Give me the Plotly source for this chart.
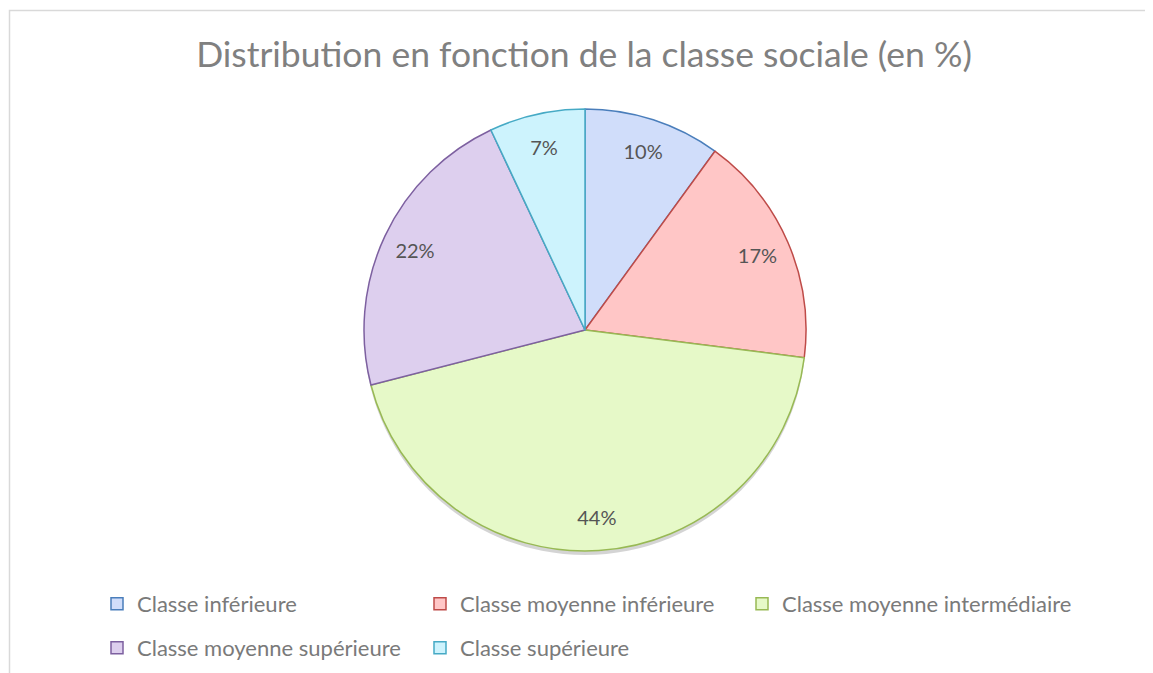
import plotly.graph_objects as go

W, H = 1153, 673
OFF = 8  # page body margin around the plot div

classes = [
    "Classe inférieure",
    "Classe moyenne inférieure",
    "Classe moyenne intermédiaire",
    "Classe moyenne supérieure",
    "Classe supérieure",
]
parts = [10, 17, 44, 22, 7]

fills = ["#d0ddfa", "#ffc6c6", "#e6f9c8", "#ddcfee", "#cdf3fd"]
edges = ["#4a7ebb", "#be4b48", "#98b954", "#7d60a0", "#46aac5"]

# legend grid as in the reference: (column, row) of each entry
leg_cell = [(0, 0), (1, 0), (2, 0), (0, 1), (1, 1)]
col_x = [97, 420, 742]   # page px
row_y = [604, 648]

# pie box in page pixels (left, top, right, bottom)
px_l, px_t, px_r, px_b = 364, 109, 806, 551

def dom(l, t, r, b):
    l, t, r, b = l - OFF, t - OFF, r - OFF, b - OFF
    return dict(x=[l / W, r / W], y=[1 - b / H, 1 - t / H])

def fy(y):
    return 1 - (y - OFF) / H

def fx(x):
    return (x - OFF) / W

fig = go.Figure()

# soft shadow under the pie
fig.add_trace(go.Pie(
    labels=["ombre"], values=[1],
    domain=dom(px_l, px_t + 4, px_r, px_b + 4),
    marker=dict(colors=["rgba(0,0,0,0.17)"], line=dict(width=0)),
    textinfo="none", hoverinfo="skip", showlegend=False, sort=False,
))

fig.add_trace(go.Pie(
    labels=classes, values=parts,
    domain=dom(px_l, px_t, px_r, px_b),
    sort=False, direction="clockwise", rotation=0,
    marker=dict(colors=fills, line=dict(color=edges, width=1.5)),
    textinfo="none", showlegend=False,
))

# transparent ring on top, only to place the percentages near the rim
fig.add_trace(go.Pie(
    labels=[c + " " for c in classes], values=parts, hole=0.7,
    domain=dom(px_l, px_t, px_r, px_b),
    sort=False, direction="clockwise", rotation=0,
    marker=dict(colors=["rgba(0,0,0,0)"] * len(parts), line=dict(width=0)),
    texttemplate="%{percent:.0%}",
    textposition="inside", insidetextorientation="horizontal",
    textfont=dict(size=20, color="#555555"),
    hoverinfo="skip", showlegend=False,
))

# one small legend per entry so the grid matches
legends = {}
for i, name in enumerate(classes):
    key = "legend" if i == 0 else f"legend{i + 1}"
    fig.add_trace(go.Scatter(
        x=[None], y=[None], mode="markers", name=name,
        marker=dict(symbol="square", size=12, color=fills[i],
                    line=dict(color=edges[i], width=1.5)),
        legend=key,
    ))
    c, r = leg_cell[i]
    legends[key] = dict(
        orientation="h", xanchor="left", yanchor="middle",
        x=fx(col_x[c]), y=fy(row_y[r]),
        font=dict(family="Lato", size=22, color="#7a7a7a"),
        bgcolor="rgba(0,0,0,0)",
    )

fig.update_layout(
    width=W, height=H,
    margin=dict(l=0, r=0, t=0, b=0),
    paper_bgcolor="white", plot_bgcolor="white",
    xaxis=dict(visible=False), yaxis=dict(visible=False),
    font=dict(family="Lato", color="#7a7a7a"),
    title=dict(
        text="Distribution en fonction de la classe sociale (en %)",
        x=fx(584), xanchor="center", y=fy(55), yanchor="middle",
        font=dict(size=35.5, color="#808080"),
    ),
    shapes=[dict(
        type="rect", xref="paper", yref="paper",
        x0=fx(9.5), x1=1.02, y0=-0.02, y1=fy(10.5),
        line=dict(color="#d9d9d9", width=1.5),
    )],
    **legends,
)

fig.write_html("out.html")
